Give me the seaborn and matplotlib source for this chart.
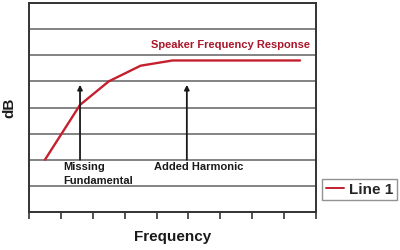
import matplotlib
matplotlib.use("Agg")
import matplotlib.pyplot as plt
import seaborn as sns
import pandas as pd

# Data
freq = [0.5, 1.6, 2.5, 3.5, 4.5, 8.5]
db = [2.0, 4.1, 5.0, 5.6, 5.8, 5.8]
arrow_x = [1.6, 4.95]
arrow_bottom = 2.0
arrow_top = 4.87
x_ticks = list(range(0, 10))
y_ticks = list(range(0, 9))

sns.set_style("white")
plt.rcParams["font.family"] = ["Liberation Sans", "DejaVu Sans"]

LINE_RED = "#c4202e"
TEXT_RED = "#a8172a"
SPINE = "#333333"
GRID = "#7a7a7a"

fig = plt.figure(figsize=(4, 2.5), dpi=100)
ax = fig.add_axes([29 / 400, 1 - 212 / 250, (316 - 29) / 400, (212 - 3) / 250])

df = pd.DataFrame({"Frequency": freq, "dB": db})
sns.lineplot(data=df, x="Frequency", y="dB", ax=ax, color=LINE_RED,
             linewidth=1.7, label="Line 1", legend=False, zorder=3)

ax.set_xlim(0, 9)
ax.set_ylim(0, 8)
ax.set_xticks(x_ticks)
ax.set_xticklabels([""] * len(x_ticks))
ax.set_yticks(y_ticks)
ax.set_yticklabels([""] * len(y_ticks))
ax.tick_params(axis="x", direction="out", length=5, width=1.2, color=SPINE, bottom=True)
ax.tick_params(axis="y", length=0)
ax.grid(axis="y", color=GRID, linewidth=1.3)
ax.grid(axis="x", visible=False)
for s in ax.spines.values():
    s.set_visible(True)
    s.set_color(SPINE)
    s.set_linewidth(1.4)

# arrows
for xa in arrow_x:
    ax.annotate("", xy=(xa, arrow_top), xytext=(xa, arrow_bottom),
                arrowprops=dict(arrowstyle="-|>", color="#1a1a1a", lw=1.3,
                                mutation_scale=7, shrinkA=0, shrinkB=0),
                zorder=4)

ax.text(6.32, 6.28, "Speaker Frequency Response", color=TEXT_RED,
        fontsize=8, fontweight="bold", ha="center", va="baseline")
ax.text(1.07, 1.61, "Missing", color="#1a1a1a", fontsize=8,
        fontweight="bold", ha="left", va="baseline")
ax.text(1.07, 1.07, "Fundamental", color="#1a1a1a", fontsize=8,
        fontweight="bold", ha="left", va="baseline")
ax.text(3.92, 1.61, "Added Harmonic", color="#1a1a1a", fontsize=8,
        fontweight="bold", ha="left", va="baseline")

ax.set_xlabel("Frequency", fontsize=11, fontweight="bold", color="#1a1a1a")
ax.xaxis.set_label_coords(0.5, -0.088)
ax.set_ylabel("dB", fontsize=11, fontweight="bold", color="#1a1a1a",
              va="center")
ax.yaxis.set_label_coords(-(29 - 9.5) / 287, 0.5)

handles, labels = ax.get_legend_handles_labels()
leg = fig.legend(handles, labels, loc="center",
                 bbox_to_anchor=(359.7 / 400, 1 - 189.5 / 250),
                 prop={"weight": "bold", "size": 11, "family": "Liberation Sans"},
                 handlelength=1.2, handletextpad=0.3, borderpad=0.25,
                 borderaxespad=0, fancybox=False, frameon=True)
leg.get_frame().set_edgecolor("#777777")
leg.get_frame().set_linewidth(1.0)
for line in leg.get_lines():
    line.set_linewidth(1.4)

fig.savefig("out.png", dpi=100)
